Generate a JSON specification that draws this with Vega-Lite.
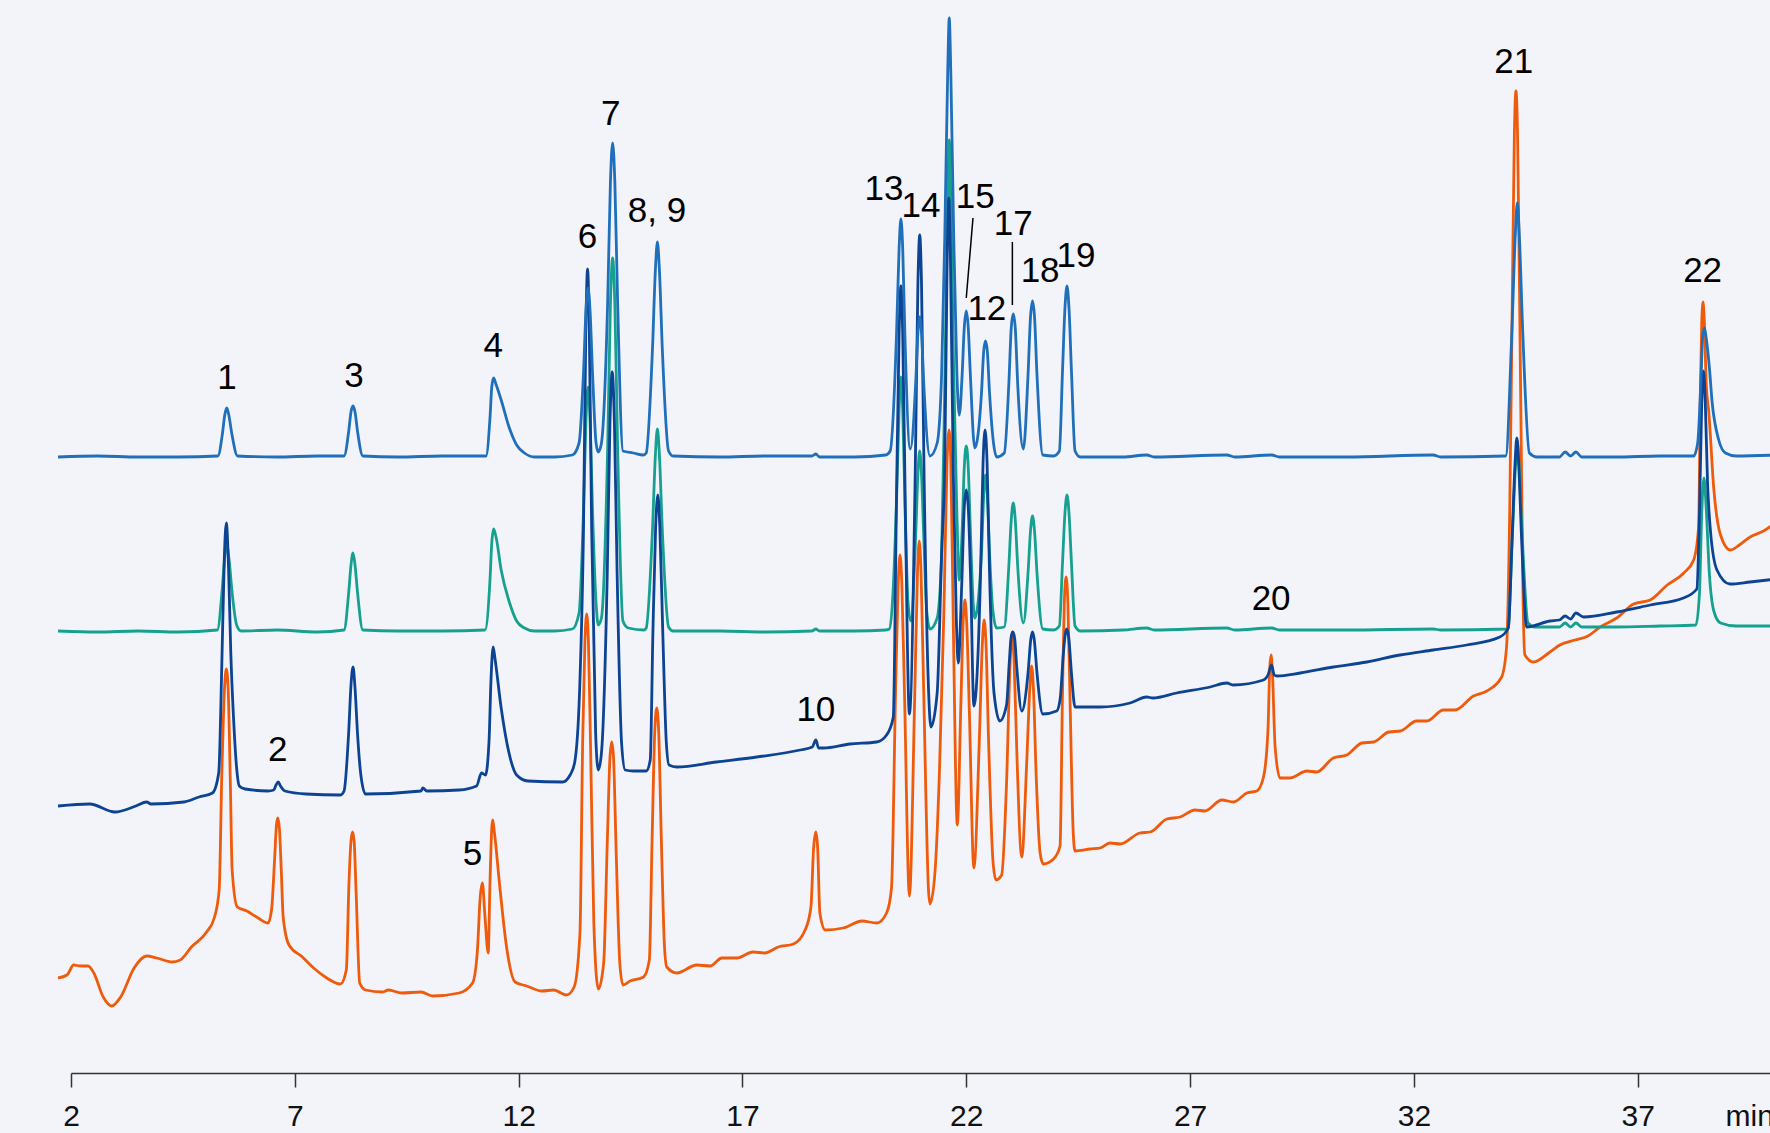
{
"$schema":"https://vega.github.io/schema/vega-lite/v6.json",
"width":1701,"height":1073,
"autosize":{"type":"none"},
"padding":{"left":71,"top":0,"right":0,"bottom":60},
"background":"#f3f4f9",
"config":{"view":{"stroke":null}},
"datasets":{
"lb":[[1.71,616],[2.6,617],[3.5,616],[4.4,616],[5.28,617],[5.385,640],[5.435,658],[5.48,665],[5.525,658],[5.59,640],[5.72,617],[6.6,616],[7.5,617],[8.1,617],[8.205,642],[8.255,661],[8.3,667],[8.345,661],[8.4,642],[8.52,617],[9.3,616],[10.3,617],[11.27,617],[11.36,655],[11.4,686],[11.44,695],[11.5,688],[11.61,673],[11.785,646],[11.955,628],[12.13,620],[12.35,616],[12.8,616],[13.2,618],[13.35,630],[13.45,701],[13.505,763],[13.55,785],[13.595,763],[13.65,701],[13.73,630],[13.78,621],[13.85,630],[13.99,773],[14.05,890],[14.1,930],[14.15,890],[14.21,773],[14.33,622],[14.56,620],[14.79,618],[14.85,620],[14.99,724],[15.055,803],[15.1,831],[15.145,803],[15.21,724],[15.35,622],[15.45,617],[16.5,616],[17.5,617],[18.55,617],[18.64,619],[18.72,616],[19.5,616],[20.2,618],[20.3,622],[20.44,736],[20.5,825],[20.54,854],[20.58,825],[20.63,736],[20.75,624],[20.87,690],[20.92,740],[20.96,756],[21.0,740],[21.05,690],[21.19,617],[21.35,630],[21.45,700],[21.52,836],[21.585,1000],[21.62,1055],[21.655,1000],[21.72,836],[21.79,700],[21.845,658],[21.91,700],[21.955,745],[22.0,762],[22.045,745],[22.09,700],[22.19,625],[22.34,680],[22.39,722],[22.43,732],[22.47,722],[22.52,680],[22.68,616],[22.85,620],[22.95,688],[23.005,745],[23.05,759],[23.095,745],[23.15,688],[23.275,624],[23.38,698],[23.435,756],[23.48,772],[23.525,756],[23.58,698],[23.71,618],[23.95,617],[24.08,622],[24.15,702],[24.205,765],[24.25,787],[24.295,765],[24.35,702],[24.43,622],[24.55,616],[25.5,616],[26.03,618],[26.2,616],[27.82,618],[28.0,616],[28.82,618],[29.0,616],[30.5,616],[32.43,618],[32.6,616],[34.05,617],[34.19,743],[34.265,838],[34.31,870],[34.355,838],[34.43,743],[34.58,620],[34.75,616],[35.25,616],[35.38,621],[35.5,617],[35.62,621],[35.75,616],[36.5,616],[37.5,617],[38.25,617],[38.34,630],[38.41,690],[38.45,735],[38.49,745],[38.53,735],[38.6,706],[38.66,672],[38.81,633],[38.96,620],[39.2,617],[40.1,618]],
"te":[[1.71,442],[2.6,441],[3.5,442],[4.4,441],[5.27,443],[5.38,485],[5.435,516],[5.48,528],[5.53,514],[5.6,480],[5.7,448],[5.8,442],[6.6,443],[7.5,441],[8.1,443],[8.205,481],[8.255,508],[8.3,520],[8.345,508],[8.4,481],[8.52,443],[9.3,442],[10.3,442],[11.25,443],[11.36,493],[11.4,530],[11.44,544],[11.5,535],[11.61,503],[11.785,472],[11.955,452],[12.13,445],[12.35,442],[12.8,442],[13.2,444],[13.35,460],[13.45,564],[13.505,654],[13.55,686],[13.595,654],[13.65,564],[13.73,470],[13.78,448],[13.85,455],[13.99,628],[14.05,768],[14.1,815],[14.15,768],[14.21,628],[14.33,452],[14.45,445],[14.8,443],[14.85,445],[14.99,543],[15.055,618],[15.1,644],[15.145,618],[15.21,543],[15.35,446],[15.45,442],[16.5,442],[17.5,441],[18.55,442],[18.64,444],[18.72,442],[19.5,442],[20.2,443],[20.28,444],[20.35,470],[20.44,569],[20.5,664],[20.54,696],[20.58,664],[20.63,569],[20.7,470],[20.76,452],[20.87,537],[20.92,599],[20.96,622],[21.0,599],[21.05,537],[21.12,460],[21.19,444],[21.35,455],[21.45,520],[21.52,688],[21.585,870],[21.62,933],[21.655,870],[21.72,700],[21.79,560],[21.845,493],[21.91,545],[21.955,605],[22.0,627],[22.045,605],[22.09,545],[22.155,470],[22.19,455],[22.34,520],[22.39,578],[22.43,598],[22.47,578],[22.52,520],[22.6,460],[22.68,445],[22.85,446],[22.95,506],[23.005,553],[23.05,570],[23.095,553],[23.15,506],[23.275,450],[23.38,500],[23.435,542],[23.48,557],[23.525,542],[23.58,500],[23.71,444],[23.95,443],[24.08,447],[24.15,510],[24.205,560],[24.25,578],[24.295,560],[24.35,510],[24.43,447],[24.55,442],[25.5,443],[26.03,445],[26.2,443],[27.82,445],[28.0,443],[28.82,445],[29.0,443],[30.5,443],[32.43,444],[32.6,443],[34.1,444],[34.2,537],[34.27,607],[34.31,632],[34.35,607],[34.42,537],[34.55,450],[34.7,446],[35.25,446],[35.38,450],[35.5,446],[35.62,450],[35.75,446],[36.5,446],[37.5,447],[38.3,448],[38.38,480],[38.43,560],[38.48,595],[38.53,565],[38.6,500],[38.7,462],[38.85,450],[39.2,447],[40.1,447]],
"db":[[1.71,267],[2.42,269],[2.98,261],[3.45,267],[3.69,271],[3.79,269],[4.52,271],[4.86,276],[5.16,280],[5.3,300],[5.37,410],[5.425,515],[5.47,550],[5.52,505],[5.57,420],[5.63,356],[5.7,305],[5.76,287],[5.89,284],[6.4,282],[6.53,283],[6.58,288],[6.63,291],[6.68,287],[6.78,282],[7.25,279],[8.02,278],[8.1,282],[8.205,342],[8.255,388],[8.3,406],[8.345,385],[8.4,340],[8.47,300],[8.58,279],[9.82,282],[9.86,285],[9.95,282],[10.67,283],[11.06,287],[11.17,300],[11.26,298],[11.34,333],[11.38,390],[11.43,426],[11.47,415],[11.61,365],[11.785,320],[11.955,298],[12.21,292],[12.98,291],[13.15,298],[13.25,310],[13.36,380],[13.45,548],[13.5,740],[13.54,804],[13.58,740],[13.63,548],[13.72,340],[13.78,303],[13.85,320],[13.98,500],[14.04,650],[14.09,701],[14.14,650],[14.2,500],[14.3,330],[14.38,303],[14.56,302],[14.85,302],[14.94,313],[15.0,441],[15.06,545],[15.11,578],[15.155,545],[15.22,441],[15.3,330],[15.36,308],[15.53,306],[16.42,311],[17.32,316],[18.29,323],[18.56,326],[18.64,333],[18.7,325],[18.81,325],[19.4,329],[20.0,331],[20.22,338],[20.37,356],[20.44,570],[20.5,740],[20.54,787],[20.58,740],[20.64,560],[20.73,359],[20.86,600],[20.92,790],[20.96,838],[21.0,790],[21.06,590],[21.16,380],[21.21,346],[21.35,380],[21.45,520],[21.52,610],[21.575,820],[21.61,875],[21.645,820],[21.71,600],[21.78,450],[21.82,410],[21.9,490],[21.955,565],[22.0,583],[22.045,565],[22.1,490],[22.17,367],[22.32,500],[22.375,610],[22.42,643],[22.465,610],[22.52,500],[22.62,380],[22.75,352],[22.9,368],[22.96,410],[23.0,435],[23.04,441],[23.08,435],[23.13,405],[23.24,362],[23.38,400],[23.44,433],[23.48,441],[23.52,433],[23.58,400],[23.71,359],[24.02,362],[24.1,375],[24.17,420],[24.21,438],[24.245,444],[24.29,435],[24.35,400],[24.43,366],[24.99,366],[25.66,370],[26.03,376],[26.17,375],[26.7,380],[27.45,386],[27.82,390],[27.96,388],[28.64,393],[28.74,398],[28.82,408],[28.88,398],[28.94,397],[29.46,400],[30.2,406],[30.95,411],[31.69,418],[32.43,423],[33.18,428],[33.92,436],[34.11,445],[34.19,530],[34.26,610],[34.3,635],[34.34,610],[34.41,530],[34.52,446],[35.04,452],[35.25,453],[35.38,457],[35.5,454],[35.62,460],[35.79,456],[36.53,461],[37.28,468],[38.02,475],[38.32,484],[38.38,560],[38.43,670],[38.47,702],[38.51,670],[38.56,590],[38.62,545],[38.77,503],[39.06,489],[39.51,491],[40.1,494]],
"or":[[1.71,95],[1.91,98],[2.06,108],[2.21,107],[2.38,107],[2.51,100],[2.72,76],[2.91,67],[3.11,76],[3.41,105],[3.69,117],[3.92,115],[4.26,111],[4.44,113],[4.69,126],[5.03,141],[5.2,155],[5.31,183],[5.37,300],[5.43,385],[5.47,404],[5.51,385],[5.56,290],[5.6,203],[5.715,166],[5.93,162],[6.18,155],[6.4,150],[6.48,163],[6.55,215],[6.59,248],[6.62,255],[6.655,245],[6.7,200],[6.74,156],[6.87,128],[7.17,116],[7.42,105],[7.68,96],[8.02,89],[8.15,103],[8.21,190],[8.255,232],[8.29,241],[8.325,232],[8.37,180],[8.45,90],[8.58,83],[8.96,81],[9.09,83],[9.39,80],[9.82,81],[10.08,77],[10.67,80],[10.97,90],[11.08,123],[11.14,175],[11.19,190],[11.25,155],[11.32,120],[11.36,190],[11.4,245],[11.42,253],[11.46,240],[11.58,186],[11.73,126],[11.92,91],[12.18,87],[12.52,82],[12.78,83],[13.07,78],[13.24,86],[13.37,140],[13.43,330],[13.48,430],[13.52,459],[13.56,430],[13.61,320],[13.68,150],[13.78,84],[13.9,110],[13.98,230],[14.04,315],[14.08,331],[14.12,315],[14.18,220],[14.26,110],[14.33,88],[14.49,92],[14.79,96],[14.92,113],[14.98,230],[15.04,340],[15.085,365],[15.13,340],[15.19,230],[15.26,125],[15.31,106],[15.53,100],[15.98,108],[16.28,107],[16.54,115],[16.87,115],[17.24,121],[17.5,120],[17.8,126],[18.14,129],[18.4,143],[18.53,166],[18.59,225],[18.64,241],[18.68,225],[18.73,160],[18.85,143],[19.25,145],[19.67,152],[20.0,150],[20.22,160],[20.33,185],[20.42,380],[20.48,490],[20.52,518],[20.56,490],[20.62,380],[20.73,177],[20.85,380],[20.91,500],[20.95,532],[20.99,500],[21.05,380],[21.16,180],[21.19,169],[21.3,200],[21.4,300],[21.5,460],[21.57,610],[21.615,643],[21.655,610],[21.71,450],[21.8,248],[21.88,370],[21.93,450],[21.97,473],[22.01,450],[22.07,360],[22.17,205],[22.29,330],[22.36,430],[22.4,453],[22.44,430],[22.5,330],[22.6,210],[22.665,193],[22.79,198],[22.9,290],[22.98,410],[23.03,441],[23.07,410],[23.13,320],[23.24,216],[23.35,310],[23.42,385],[23.46,407],[23.5,385],[23.56,300],[23.65,220],[23.72,209],[23.95,214],[24.095,227],[24.15,380],[24.19,470],[24.23,496],[24.27,470],[24.32,370],[24.39,240],[24.43,222],[24.77,224],[24.99,225],[25.21,230],[25.44,229],[25.88,240],[26.11,241],[26.48,254],[26.78,256],[27.11,263],[27.33,262],[27.71,273],[27.97,271],[28.27,280],[28.49,282],[28.64,296],[28.74,343],[28.78,405],[28.81,418],[28.84,400],[28.9,326],[29.01,295],[29.23,295],[29.61,302],[29.83,301],[30.2,315],[30.5,318],[30.84,330],[31.1,331],[31.44,341],[31.7,342],[32.06,352],[32.29,352],[32.66,363],[32.92,363],[33.33,377],[33.63,382],[33.96,396],[34.07,426],[34.14,560],[34.2,780],[34.245,940],[34.28,982],[34.315,940],[34.36,780],[34.4,620],[34.44,470],[34.48,418],[34.67,411],[35.04,421],[35.26,428],[35.6,433],[35.89,437],[36.16,446],[36.53,455],[36.91,469],[37.28,473],[37.66,488],[38.03,500],[38.25,513],[38.36,546],[38.4,680],[38.43,750],[38.46,771],[38.49,750],[38.53,690],[38.59,660],[38.7,584],[38.85,538],[39.07,523],[39.27,528],[39.51,536],[39.81,542],[40.1,551]],
"labels":[{"t":5.485,"v":684,"lab":"1"},{"t":6.62,"v":312,"lab":"2"},{"t":8.32,"v":686,"lab":"3"},{"t":11.43,"v":716,"lab":"4"},{"t":10.97,"v":208,"lab":"5"},{"t":13.54,"v":825,"lab":"6"},{"t":14.06,"v":948,"lab":"7"},{"t":15.09,"v":851,"lab":"8, 9"},{"t":18.64,"v":352,"lab":"10"},{"t":20.16,"v":873,"lab":"13"},{"t":20.99,"v":856,"lab":"14"},{"t":22.2,"v":865,"lab":"15"},{"t":22.46,"v":753,"lab":"12"},{"t":23.05,"v":838,"lab":"17"},{"t":23.65,"v":791,"lab":"18"},{"t":24.45,"v":806,"lab":"19"},{"t":28.81,"v":463,"lab":"20"},{"t":34.23,"v":1000,"lab":"21"},{"t":38.45,"v":791,"lab":"22"}],
"leaders":[{"t":22.15,"v":855,"t2":22.0,"v2":775},{"t":23.03,"v":831,"t2":23.03,"v2":768}]
},
"layer":[
{"data":{"name":"or"},"transform":[{"calculate":"datum[0]","as":"t"},{"calculate":"datum[1]","as":"v"}],
 "mark":{"type":"line","color":"#ef5b0c","strokeWidth":2.8,"interpolate":"monotone"},
 "encoding":{"x":{"field":"t","type":"quantitative","scale":{"domain":[2,40],"nice":false,"zero":false},
   "axis":{"values":[2,7,12,17,22,27,32,37],"grid":false,"domainColor":"#333333","domainWidth":1.5,"tickColor":"#333333","tickWidth":1.5,"tickSize":14,"labelFontSize":30,"labelFont":"Liberation Sans","labelColor":"#111111","labelPadding":14,"labelFlush":false,"labelOverlap":false,"title":"min","titleFontSize":30,"titleFont":"Liberation Sans","titleFontWeight":"normal","titleColor":"#111111","titleX":1654,"titleY":52,"titleAlign":"left","titleBaseline":"alphabetic","titleAnchor":null}},
  "y":{"field":"v","type":"quantitative","scale":{"domain":[0,1073],"nice":false,"zero":false},"axis":null}}},
{"data":{"name":"te"},"transform":[{"calculate":"datum[0]","as":"t"},{"calculate":"datum[1]","as":"v"}],
 "mark":{"type":"line","color":"#16a08f","strokeWidth":2.8,"interpolate":"monotone"},
 "encoding":{"x":{"field":"t","type":"quantitative"},"y":{"field":"v","type":"quantitative"}}},
{"data":{"name":"db"},"transform":[{"calculate":"datum[0]","as":"t"},{"calculate":"datum[1]","as":"v"}],
 "mark":{"type":"line","color":"#0c4393","strokeWidth":2.8,"interpolate":"monotone"},
 "encoding":{"x":{"field":"t","type":"quantitative"},"y":{"field":"v","type":"quantitative"}}},
{"data":{"name":"lb"},"transform":[{"calculate":"datum[0]","as":"t"},{"calculate":"datum[1]","as":"v"}],
 "mark":{"type":"line","color":"#1f6fba","strokeWidth":2.8,"interpolate":"monotone"},
 "encoding":{"x":{"field":"t","type":"quantitative"},"y":{"field":"v","type":"quantitative"}}},
{"data":{"name":"leaders"},"mark":{"type":"rule","color":"#000000","strokeWidth":1.5},
 "encoding":{"x":{"field":"t","type":"quantitative"},"x2":{"field":"t2"},"y":{"field":"v","type":"quantitative"},"y2":{"field":"v2"}}},
{"data":{"name":"labels"},"mark":{"type":"text","font":"Liberation Sans","fontSize":35,"color":"#000000","align":"center","baseline":"alphabetic"},
 "encoding":{"x":{"field":"t","type":"quantitative"},"y":{"field":"v","type":"quantitative"},"text":{"field":"lab"}}}
]
}
